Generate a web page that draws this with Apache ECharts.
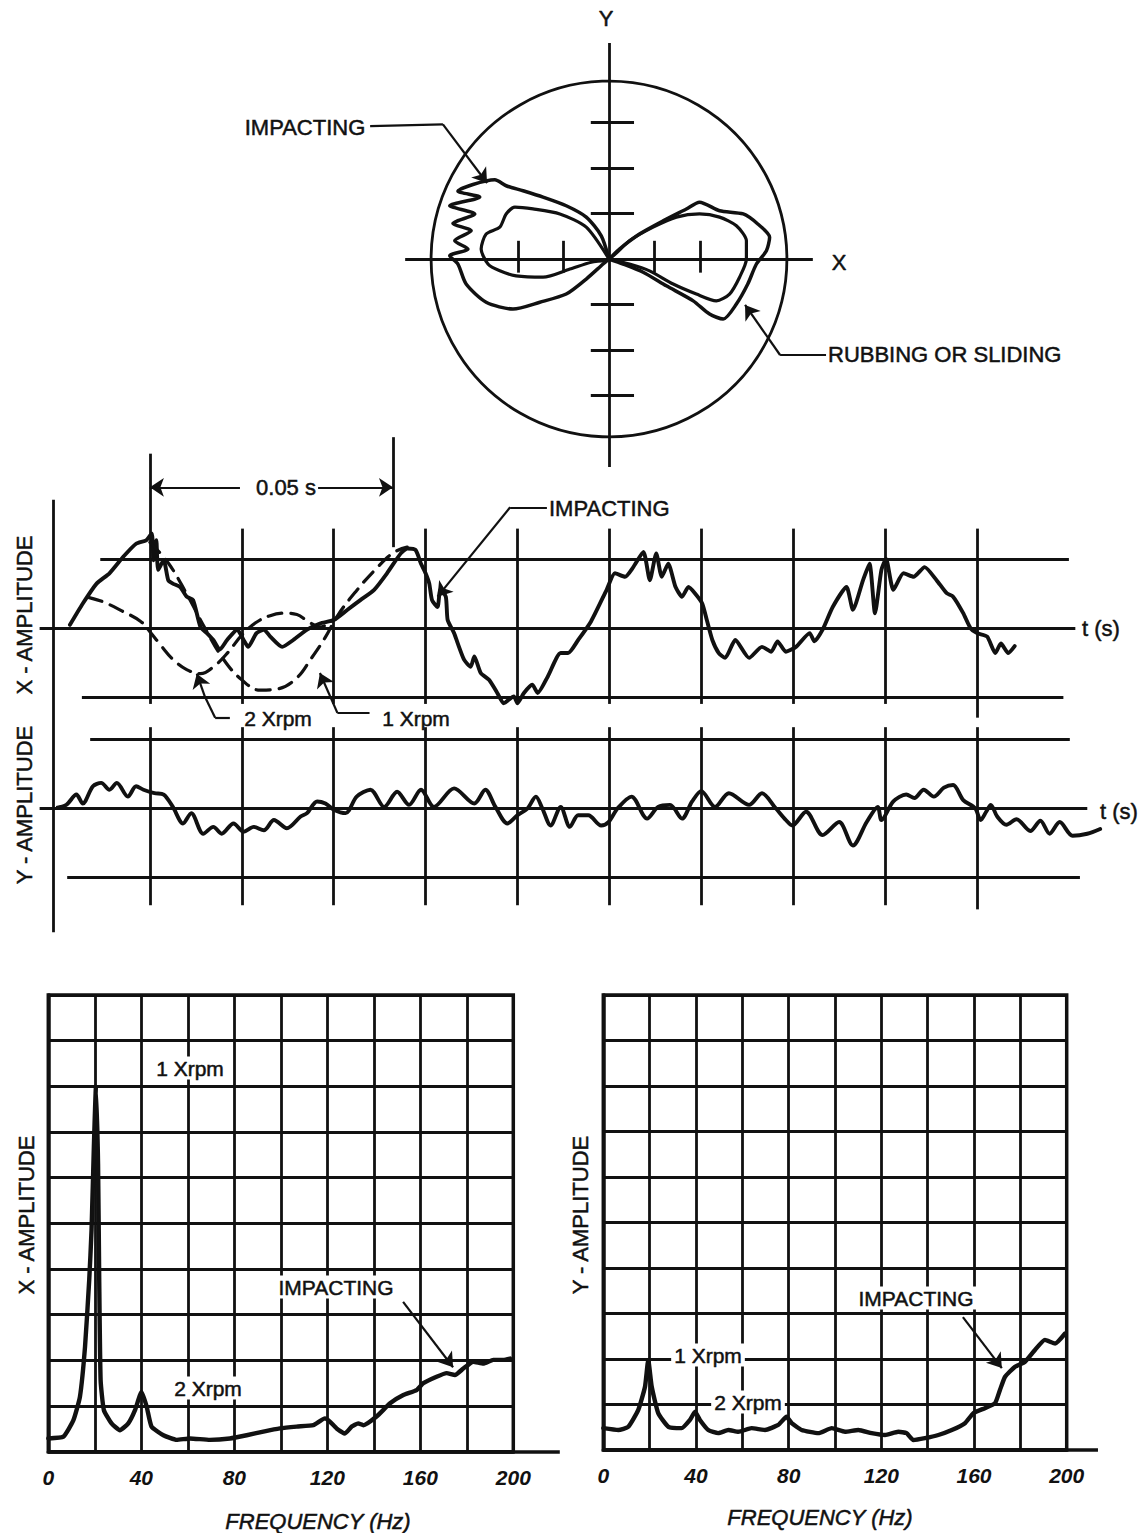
<!DOCTYPE html>
<html>
<head>
<meta charset="utf-8">
<script src="https://cdn.jsdelivr.net/npm/echarts@6.0.0/dist/echarts.min.js"></script>
<style>
  html, body { margin: 0; padding: 0; background: #fff; }
  #chart { width: 1145px; height: 1533px; }
</style>
</head>
<body>
<div id="chart"></div>
<script>
// ---- orbit (units = one graticule tick) ----
var orbitOuter = [[0,0],[-0.17,0.51],[-0.50,0.92],[-0.94,1.17],[-1.45,1.36],[-1.89,1.50],[-2.26,1.61],[-2.51,1.74],
  [-3.32,1.49],[-2.84,1.36],[-3.50,1.17],[-2.95,0.99],[-3.43,0.78],[-3.03,0.62],[-3.39,0.40],[-3.10,0.22],[-3.50,0.07],
  [-3.32,-0.11],[-3.14,-0.55],[-2.70,-0.95],[-2.11,-1.10],[-1.52,-0.95],[-0.94,-0.77],[-0.50,-0.44],[-0.13,-0.11],[0,0],
  [0.23,0.22],[0.67,0.55],[1.19,0.84],[1.70,1.10],[1.99,1.25],[2.43,1.06],[2.95,0.99],[3.27,0.77],[3.53,0.48],[3.46,0.18],
  [3.24,-0.11],[3.05,-0.55],[2.80,-0.99],[2.51,-1.32],[2.21,-1.21],[1.85,-0.92],[1.26,-0.59],[0.75,-0.29],[0.31,-0.11],[0,0]];
var orbitInner = [[0,0],[-0.50,0.70],[-1.08,0.99],[-1.67,1.10],[-2.07,1.14],[-2.26,0.99],[-2.40,0.70],[-2.70,0.55],
  [-2.81,0.22],[-2.66,-0.11],[-2.40,-0.26],[-2.04,-0.37],[-1.45,-0.40],[-0.86,-0.22],[-0.39,-0.07],[0,0],
  [0.45,0.40],[0.97,0.70],[1.48,0.92],[1.99,0.99],[2.43,0.92],[2.80,0.73],[3.02,0.40],[3.02,0.0],[2.87,-0.40],
  [2.65,-0.77],[2.36,-0.92],[1.92,-0.77],[1.41,-0.55],[0.89,-0.26],[0.45,-0.11],[0,0]];
var orbitRadius = 3.91;
var orbitYTicks = [-3, -2, -1, 1, 2, 3];
var orbitXTicks = [-2, -1, 1, 2];

// ---- time waveforms: x in graticule divisions, y in divisions ----
var timeX = [[0.13,0.05],[0.27,0.36],[0.42,0.65],[0.56,0.80],[0.71,1.04],[0.85,1.23],[0.96,1.28],[1.02,1.38],[1.04,0.99],
  [1.07,1.28],[1.09,0.85],[1.15,0.99],[1.20,0.70],[1.25,0.65],[1.33,0.60],[1.40,0.46],[1.47,0.41],[1.55,0.02],[1.62,-0.07],
  [1.69,-0.17],[1.76,-0.31],[1.84,-0.17],[1.95,-0.02],[2.02,-0.17],[2.07,-0.27],[2.16,-0.07],[2.24,-0.02],[2.31,-0.12],
  [2.44,-0.27],[2.56,-0.17],[2.71,-0.02],[2.85,0.07],[3.0,0.12],[3.15,0.27],[3.29,0.41],[3.44,0.56],[3.58,0.80],[3.73,1.09],
  [3.80,1.16],[3.89,1.14],[3.95,0.94],[4.0,0.80],[4.04,0.65],[4.07,0.41],[4.13,0.31],[4.16,0.56],[4.22,0.46],[4.24,0.12],
  [4.31,-0.07],[4.35,-0.22],[4.42,-0.46],[4.49,-0.56],[4.53,-0.41],[4.60,-0.65],[4.69,-0.75],[4.78,-0.94],[4.85,-1.09],
  [4.96,-0.99],[5.0,-1.09],[5.07,-0.94],[5.16,-0.82],[5.22,-0.94],[5.33,-0.70],[5.47,-0.36],[5.55,-0.36],[5.66,-0.17],
  [5.80,0.10],[5.97,0.56],[6.06,0.80],[6.17,0.75],[6.26,0.89],[6.37,1.11],[6.44,0.70],[6.51,1.09],[6.57,0.75],[6.64,0.94],
  [6.72,0.60],[6.79,0.46],[6.86,0.60],[6.93,0.51],[7.01,0.36],[7.06,0.12],[7.12,-0.17],[7.19,-0.36],[7.26,-0.43],[7.37,-0.17],
  [7.52,-0.43],[7.66,-0.27],[7.76,-0.34],[7.83,-0.19],[7.92,-0.34],[8.03,-0.27],[8.18,-0.07],[8.23,-0.19],[8.32,-0.02],
  [8.43,0.31],[8.58,0.60],[8.65,0.27],[8.76,0.70],[8.83,0.94],[8.89,0.22],[8.96,0.85],[9.01,1.01],[9.09,0.56],[9.20,0.80],
  [9.31,0.75],[9.43,0.89],[9.56,0.70],[9.67,0.51],[9.74,0.46],[9.85,0.22],[9.93,0.0],[10.0,-0.07],[10.11,-0.12],
  [10.20,-0.36],[10.26,-0.22],[10.34,-0.36],[10.41,-0.26]];
var timeX1x = [[1.0,1.25],[1.2,0.95],[1.4,0.5],[1.6,0.0],[1.8,-0.45],[2.0,-0.75],[2.2,-0.9],[2.4,-0.88],[2.6,-0.72],
  [2.75,-0.45],[2.9,-0.15],[3.05,0.2],[3.25,0.55],[3.45,0.85],[3.65,1.1],[3.8,1.18]];
var timeX2x = [[0.33,0.45],[0.5,0.38],[0.7,0.25],[0.9,0.1],[1.0,-0.05],[1.12,-0.25],[1.25,-0.45],[1.4,-0.6],[1.55,-0.66],
  [1.7,-0.55],[1.85,-0.35],[2.0,-0.1],[2.15,0.08],[2.3,0.18],[2.45,0.22],[2.6,0.2],[2.72,0.1],[2.85,0.02],[3.0,0.12]];
var timeY = [[-0.05,0],[0.09,0.05],[0.2,0.2],[0.27,0.07],[0.38,0.32],[0.47,0.37],[0.56,0.27],[0.64,0.37],[0.76,0.17],
  [0.85,0.32],[0.93,0.27],[1.05,0.22],[1.15,0.2],[1.25,0.02],[1.36,-0.22],[1.45,-0.07],[1.58,-0.37],[1.69,-0.27],
  [1.78,-0.37],[1.91,-0.22],[2.02,-0.34],[2.13,-0.27],[2.24,-0.32],[2.35,-0.17],[2.49,-0.29],[2.64,-0.12],[2.71,-0.07],
  [2.82,0.1],[2.91,0.07],[3.0,-0.02],[3.13,-0.07],[3.25,0.17],[3.4,0.27],[3.55,0.02],[3.69,0.24],[3.82,0.05],[3.95,0.27],
  [4.09,0.02],[4.31,0.29],[4.53,0.07],[4.65,0.27],[4.76,0.02],[4.89,-0.22],[5.0,-0.1],[5.11,0],[5.2,0.17],[5.27,0],
  [5.36,-0.25],[5.47,0.02],[5.57,-0.27],[5.66,-0.1],[5.77,-0.1],[5.91,-0.25],[5.99,-0.2],[6.09,0],[6.24,0.17],[6.41,-0.15],
  [6.53,0.02],[6.66,0.05],[6.79,-0.15],[6.9,0.1],[7.0,0.25],[7.15,0.02],[7.3,0.22],[7.52,0.05],[7.66,0.22],[7.81,0],
  [7.92,-0.17],[7.99,-0.25],[8.14,-0.05],[8.32,-0.39],[8.5,-0.2],[8.65,-0.54],[8.8,-0.2],[8.92,0.02],[8.96,-0.17],
  [9.09,0.1],[9.23,0.2],[9.32,0.15],[9.42,0.27],[9.53,0.17],[9.64,0.3],[9.74,0.34],[9.85,0.12],[9.98,0],[10.04,-0.17],
  [10.1,-0.05],[10.15,0.05],[10.22,-0.12],[10.32,-0.24],[10.43,-0.16],[10.58,-0.33],[10.69,-0.18],[10.79,-0.37],
  [10.9,-0.2],[11.04,-0.4],[11.2,-0.37],[11.34,-0.3]];
var timeDivisions = [1, 2, 3, 4, 5, 6, 7, 8, 9, 10];
var timeLevels = [-1, 0, 1];

// ---- spectra: [frequency Hz, amplitude divisions] ----
var specX = [[0,0.29],[6.5,0.33],[10.8,0.69],[13.6,1.2],[15.8,2.3],[17.6,3.76],[18.6,4.85],[19.6,6.68],[20.5,8.0],
  [21.4,6.3],[21.9,3.76],[22.5,1.57],[23.9,0.91],[27.2,0.62],[30.8,0.47],[34.4,0.62],[37.3,0.91],[40.1,1.31],[42.3,0.99],
  [44.4,0.55],[49.5,0.36],[55.2,0.26],[60.9,0.29],[69.5,0.26],[78.1,0.29],[85.3,0.36],[92.5,0.44],[99.6,0.51],[106.8,0.55],
  [114,0.58],[119,0.73],[121.1,0.66],[124,0.51],[127.6,0.40],[130.5,0.55],[133.3,0.62],[135.5,0.58],[141.2,0.77],[147,1.06],
  [152.7,1.24],[158.4,1.35],[161.3,1.50],[167,1.64],[171.3,1.72],[174.9,1.68],[178.5,1.82],[182.8,1.97],[187.1,1.93],
  [191.4,2.01],[195.7,2.01],[198.6,2.04]];
var specY = [[0,0.48],[6.5,0.44],[10.8,0.51],[15.1,0.88],[18,1.39],[19.4,1.98],[20.9,1.39],[23.7,0.81],[28.1,0.51],
  [33.8,0.48],[37.4,0.66],[39.6,0.84],[41.7,0.66],[45.3,0.44],[49.6,0.37],[54,0.44],[58.3,0.40],[64,0.48],[69.8,0.44],
  [75.5,0.55],[79.1,0.73],[81.3,0.59],[85.6,0.44],[92.8,0.37],[98.6,0.48],[104.3,0.40],[110.1,0.44],[115.8,0.37],
  [121.6,0.33],[127.3,0.40],[130.9,0.37],[133.8,0.22],[138.8,0.26],[144.6,0.33],[150.4,0.44],[156.1,0.59],[159.7,0.81],
  [164.7,0.92],[169.1,1.03],[171.2,1.32],[173.4,1.61],[177.7,1.83],[182,1.94],[186.3,2.20],[190.6,2.42],[195,2.34],[199.3,2.56]];
var freqLabelStep = 40;

var FONT = '"Liberation Sans", Arial, Helvetica, sans-serif';
var INK = '#111';

function hiddenAxis(g, min, max) {
  return { type: 'value', gridIndex: g, min: min, max: max, show: false };
}
function specXAxis(g) {
  return {
    type: 'value', gridIndex: g, min: 0, max: 200, interval: 20,
    axisLine: { show: true, onZero: false, lineStyle: { color: INK, width: 3.5 } },
    axisTick: { show: false },
    splitLine: { show: true, lineStyle: { color: INK, width: 2.8 } },
    axisLabel: {
      margin: 15, color: INK, fontSize: 21, fontWeight: 'bold', fontStyle: 'italic', fontFamily: FONT,
      formatter: function (v) { return v % freqLabelStep === 0 ? String(v) : ''; }
    }
  };
}
function specYAxis(g) {
  return {
    type: 'value', gridIndex: g, min: 0, max: 10, interval: 1,
    axisLine: { show: true, lineStyle: { color: INK, width: 3.5 } },
    axisTick: { show: false }, axisLabel: { show: false },
    splitLine: { show: true, lineStyle: { color: INK, width: 2.8 } }
  };
}
function curve(g, data, width, dashed, smooth) {
  return {
    type: 'line', xAxisIndex: g, yAxisIndex: g, data: data, showSymbol: false, symbol: 'none',
    smooth: smooth, clip: false, silent: true, z: 4,
    lineStyle: { color: INK, width: width, type: dashed ? [14, 9] : 'solid', cap: 'round', join: 'round' }
  };
}
function segs(g, list, width, arrow) {
  return {
    type: 'lines', coordinateSystem: 'cartesian2d', xAxisIndex: g, yAxisIndex: g, clip: false, silent: true, z: 3,
    symbol: arrow ? ['none', 'arrow'] : 'none', symbolSize: arrow ? 14 : 0,
    lineStyle: { color: INK, width: width, opacity: 1, curveness: 0 },
    data: list.map(function (c) { return { coords: c }; })
  };
}

// structural lines built from tick arrays
var orbitFrame = [[[-4.48, 0], [4.48, 0]], [[0, 4.75], [0, -4.57]]]
  .concat(orbitYTicks.map(function (t) { return [[-0.4, t], [0.55, t]]; }))
  .concat(orbitXTicks.map(function (t) { return [[t, 0.4], [t, -0.3]]; }));

var xPanelLines = timeDivisions.map(function (d) {
  return [[d, d === 1 ? 2.54 : 1.45], [d, d === 10 ? -1.3 : -1.1]];
});
var xPanelSpans = { '-1': [0.26, 10.94], '0': [-0.2, 11.07], '1': [0.46, 11.0] };
timeLevels.forEach(function (l) { xPanelLines.push([[xPanelSpans[l][0], l], [xPanelSpans[l][1], l]]); });
xPanelLines.push([[-0.054, 1.87], [-0.054, -4.42]]);   // shared amplitude axis
xPanelLines.push([[3.645, 2.78], [3.645, 1.18]]);      // end marker of one revolution

var yPanelLines = timeDivisions.map(function (d) { return [[d, 1.18], [d, d === 10 ? -1.47 : -1.41]]; });
var yPanelSpans = { '-1': [0.1, 11.12], '0': [-0.2, 11.2], '1': [0.35, 11.01] };
timeLevels.forEach(function (l) { yPanelLines.push([[yPanelSpans[l][0], l], [yPanelSpans[l][1], l]]); });

var chart = echarts.init(document.getElementById('chart'), null, { renderer: 'svg' });

chart.setOption({
  backgroundColor: '#fff',
  animation: false,
  grid: [
    { left: 336, top: 31.5, width: 546, height: 455 },
    { left: 58, top: 518.3, width: 1056.85, height: 220 },
    { left: 58, top: 698.3, width: 1056.85, height: 220 },
    { left: 48.3, top: 995, width: 465, height: 456.7, show: true, borderColor: INK, borderWidth: 3.5 },
    { left: 603.3, top: 995, width: 463.4, height: 455, show: true, borderColor: INK, borderWidth: 3.5 }
  ],
  xAxis: [hiddenAxis(0, -6, 6), hiddenAxis(1, 0, 11.5), hiddenAxis(2, 0, 11.5), specXAxis(3), specXAxis(4)],
  yAxis: [hiddenAxis(0, -5, 5), hiddenAxis(1, -1.6, 1.6), hiddenAxis(2, -1.6, 1.6), specYAxis(3), specYAxis(4)],
  series: [
    // orbit
    segs(0, orbitFrame, 2.8, false),
    curve(0, orbitOuter, 3.5, false, 0.25),
    curve(0, orbitInner, 3.2, false, 0.25),
    segs(0, [[[-5.25, 2.92], [-3.65, 2.96]], [[4.77, -2.11], [3.76, -2.11]]], 2.2, false),
    segs(0, [[[-3.65, 2.96], [-2.68, 1.67]], [[3.76, -2.11], [2.99, -1.01]]], 2.2, true),
    // X amplitude vs time
    segs(1, xPanelLines, 2.8, false),
    curve(1, timeX, 3.9, false, 0.2),
    curve(1, timeX1x, 3.2, true, 0.4),
    curve(1, timeX2x, 3.2, true, 0.4),
    segs(1, [[[5.32, 1.76], [4.92, 1.76]], [[1.87, -1.30], [1.71, -1.30]], [[1.71, -1.30], [1.6, -1.0]],
             [[3.39, -1.23], [3.04, -1.23]]], 2.2, false),
    segs(1, [[[1.98, 2.05], [1.0, 2.05]], [[2.83, 2.05], [3.645, 2.05]], [[4.92, 1.76], [4.13, 0.46]],
             [[1.6, -1.0], [1.51, -0.66]], [[3.04, -1.23], [2.85, -0.65]]], 2.2, true),
    // Y amplitude vs time
    segs(2, yPanelLines, 2.8, false),
    curve(2, timeY, 3.9, false, 0.3),
    // spectra
    curve(3, specX, 4.4, false, 0.15),
    segs(3, [[[0, 0], [220, 0]]], 3.5, false),
    segs(3, [[[152.6, 3.28], [174.1, 1.85]]], 2.2, true),
    curve(4, specY, 4.4, false, 0.15),
    segs(4, [[[0, 0], [213.5, 0]]], 3.5, false),
    segs(4, [[[155.2, 2.92], [172, 1.8]]], 2.2, true)
  ]
});

function txt(s, x, y, size, opts) {
  opts = opts || {};
  var font = (opts.italic ? 'italic ' : '') + (opts.bold ? 'bold ' : '') + size + 'px ' + FONT;
  var style = {
    text: s, fill: INK, font: font, stroke: INK, lineWidth: 0.5,
    align: opts.align || 'center', verticalAlign: 'middle',
    textAlign: opts.align || 'center', textVerticalAlign: 'middle'
  };
  if (opts.boxed) { style.backgroundColor = '#fff'; style.padding = [1, 3]; }
  return { type: 'text', x: x, y: y, rotation: opts.rot || 0, silent: true, z: 10, style: style };
}

var c0 = chart.convertToPixel({ gridIndex: 0 }, [0, 0]);
var c1 = chart.convertToPixel({ gridIndex: 0 }, [orbitRadius, 0]);
var up = Math.PI / 2;
var boxed = { boxed: true };

chart.setOption({
  graphic: [
    { type: 'circle', silent: true, z: 2, shape: { cx: c0[0], cy: c0[1], r: c1[0] - c0[0] },
      style: { fill: 'none', stroke: INK, lineWidth: 2.8 } },
    txt('Y', 606, 18, 22),
    txt('X', 839, 262, 22),
    txt('IMPACTING', 305, 127, 22),
    txt('RUBBING OR SLIDING', 828, 354, 22, { align: 'left' }),
    txt('0.05 s', 286, 487, 22),
    txt('IMPACTING', 549, 508, 22, { align: 'left' }),
    txt('2 Xrpm', 278, 718, 21),
    txt('1 Xrpm', 416, 718, 21),
    txt('t (s)', 1082, 628, 22, { align: 'left' }),
    txt('t (s)', 1100, 811, 22, { align: 'left' }),
    txt('X - AMPLITUDE', 24, 615, 22, { rot: up }),
    txt('Y - AMPLITUDE', 24, 805, 22, { rot: up }),
    txt('1 Xrpm', 190, 1068, 21, boxed),
    txt('2 Xrpm', 208, 1388, 21, boxed),
    txt('IMPACTING', 336, 1287, 21, boxed),
    txt('1 Xrpm', 708, 1355, 21, boxed),
    txt('2 Xrpm', 748, 1402, 21, boxed),
    txt('IMPACTING', 916, 1298, 21, boxed),
    txt('FREQUENCY (Hz)', 318, 1521, 22, { italic: true }),
    txt('FREQUENCY (Hz)', 820, 1517, 22, { italic: true }),
    txt('X - AMPLITUDE', 26, 1215, 22, { rot: up }),
    txt('Y - AMPLITUDE', 580, 1215, 22, { rot: up })
  ]
});
</script>
</body>
</html>
